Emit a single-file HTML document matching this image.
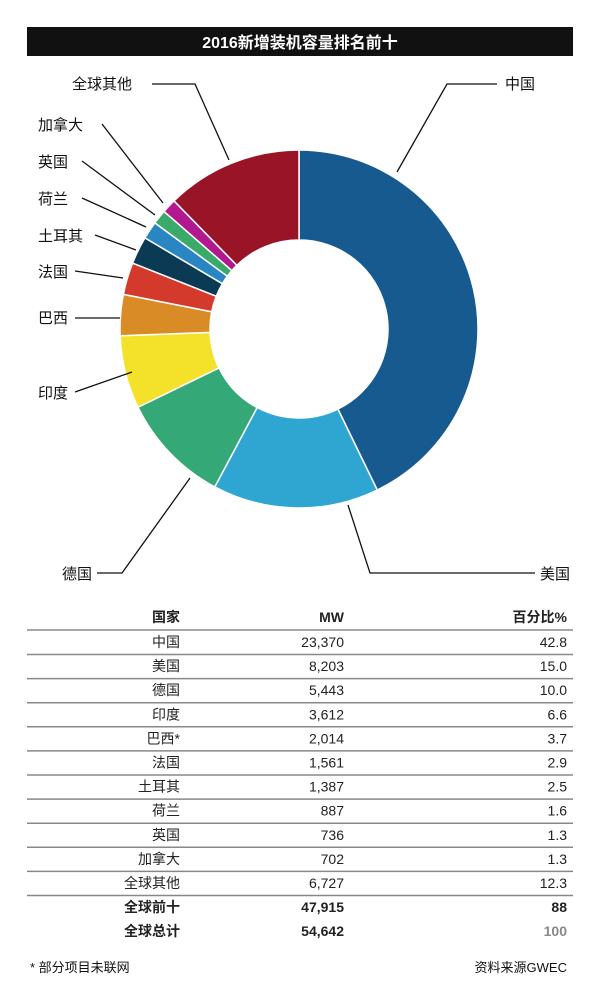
<!DOCTYPE html>
<html><head><meta charset="utf-8"><style>
body{margin:0;background:#fff;width:600px;height:991px;overflow:hidden;font-family:"Liberation Sans","Noto Sans CJK SC",sans-serif}
</style></head><body>
<svg id="s" width="600" height="991" xmlns="http://www.w3.org/2000/svg" font-family="Liberation Sans, Noto Sans CJK SC, sans-serif">
<rect x="27" y="27" width="546" height="29" fill="#111"/>
<text x="300" y="48" fill="#fff" font-size="16" font-weight="bold" text-anchor="middle">2016新增装机容量排名前十</text>
<g id="pie"></g>
<g stroke="#111" stroke-width="1.3" fill="none">
<polyline points="497,84 447,84 397,172"/>
<polyline points="152,84 195,84 229,160"/>
<polyline points="102,124 163,203"/>
<polyline points="82,161 155,215"/>
<polyline points="82,198 146,227"/>
<polyline points="95,235 136,250"/>
<polyline points="75,271 123,278"/>
<polyline points="75,318 120,318"/>
<polyline points="75,392 132,372"/>
<polyline points="97,573 122,573 190,478"/>
<polyline points="535,573 370,573 348,505"/>
</g>
<g font-size="15" fill="#111">
<text x="505" y="89">中国</text>
<text x="72" y="89">全球其他</text>
<text x="38" y="130">加拿大</text>
<text x="38" y="167">英国</text>
<text x="38" y="204">荷兰</text>
<text x="38" y="241">土耳其</text>
<text x="38" y="277">法国</text>
<text x="38" y="323">巴西</text>
<text x="38" y="398">印度</text>
<text x="62" y="579">德国</text>
<text x="540" y="579">美国</text>
</g>
<g id="tbl" font-size="14" fill="#222"></g>
<text x="30" y="972" font-size="13" fill="#111">* 部分项目未联网</text>
<text x="567" y="972" font-size="13" fill="#111" text-anchor="end">资料来源GWEC</text>
</svg>
<script>
var ns="http://www.w3.org/2000/svg";
var d=[[42.8,"#175a8f"],[15.0,"#2fa6d2"],[10.0,"#35a878"],[6.6,"#f4e22a"],[3.7,"#d98b25"],[2.9,"#d43a2b"],[2.5,"#0b3a55"],[1.6,"#2a86c3"],[1.3,"#3aaa6a"],[1.3,"#b3198f"],[12.3,"#9a1427"]];
var cx=299,cy=329,R=179,r=89,a=0,g=document.getElementById("pie");
function p(rad,ang){return [cx+rad*Math.sin(ang),cy-rad*Math.cos(ang)];}
d.forEach(function(s){var a1=a+s[0]/100*2*Math.PI;var L=(a1-a)>Math.PI?1:0;
var A=p(R,a),B=p(R,a1),C=p(r,a1),D=p(r,a);
var e=document.createElementNS(ns,"path");
e.setAttribute("d","M"+A+" A"+R+","+R+" 0 "+L+" 1 "+B+" L"+C+" A"+r+","+r+" 0 "+L+" 0 "+D+"Z");
e.setAttribute("fill",s[1]);e.setAttribute("stroke","#fff");e.setAttribute("stroke-width","1.5");g.appendChild(e);a=a1;});
var t=document.getElementById("tbl");
function tx(x,y,s,b,c){var e=document.createElementNS(ns,"text");e.setAttribute("x",x);e.setAttribute("y",y);e.setAttribute("text-anchor","end");if(b)e.setAttribute("font-weight","bold");if(c)e.setAttribute("fill",c);e.textContent=s;t.appendChild(e);}
function ln(y,w){var e=document.createElementNS(ns,"line");e.setAttribute("x1",27);e.setAttribute("x2",573);e.setAttribute("y1",y);e.setAttribute("y2",y);e.setAttribute("stroke","#888");e.setAttribute("stroke-width",w);t.appendChild(e);}
tx(180,622,"国家",1);tx(344,622,"MW",1);tx(567,622,"百分比%",1);ln(630,1.5);
var rows=[["中国","23,370","42.8"],["美国","8,203","15.0"],["德国","5,443","10.0"],["印度","3,612","6.6"],["巴西*","2,014","3.7"],["法国","1,561","2.9"],["土耳其","1,387","2.5"],["荷兰","887","1.6"],["英国","736","1.3"],["加拿大","702","1.3"],["全球其他","6,727","12.3"]];
rows.forEach(function(rw,i){var y=647+i*24.1;tx(180,y,rw[0]);tx(344,y,rw[1]);tx(567,y,rw[2]);ln(y+7.5,1.5);});
tx(180,912,"全球前十",1);tx(344,912,"47,915",1);tx(567,912,"88",1);
tx(180,936,"全球总计",1);tx(344,936,"54,642",1);tx(567,936,"100",1,"#888");
</script>
</body></html>
